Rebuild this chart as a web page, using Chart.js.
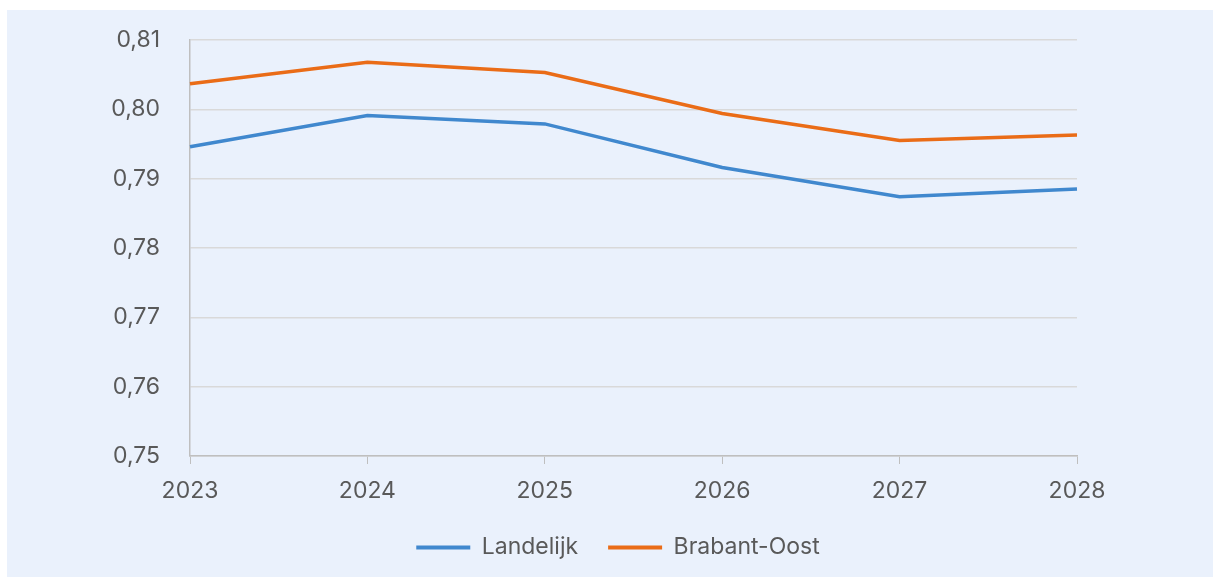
<!DOCTYPE html>
<html>
<head>
<meta charset="utf-8">
<script src="https://cdn.jsdelivr.net/npm/chart.js@4"></script>
<style>
  html, body { margin: 0; padding: 0; background: #ffffff; overflow: hidden; }
  #box { position: absolute; left: 7px; top: 10px; width: 1206px; height: 567px; background: #EAF1FC; }
</style>
</head>
<body>
<div id="box"><canvas id="lineChart" width="1206" height="567"></canvas></div>
<script>
const years = ["2023", "2024", "2025", "2026", "2027", "2028"];
const landelijk = [0.7946, 0.7991, 0.7979, 0.7916, 0.7874, 0.7885];
const brabantOost = [0.8037, 0.8068, 0.8053, 0.7994, 0.7955, 0.7963];
const yTicks = [0.75, 0.76, 0.77, 0.78, 0.79, 0.80, 0.81];

Chart.defaults.font.family = "Inter, 'Open Sans', sans-serif";
Chart.defaults.color = "#595959";

// the original legend is centred on the whole box, not on the plot
const legendShift = {
    id: "legendShift",
    afterLayout: function (chart) {
        chart.legend.left += 76;
        chart.legend.right += 76;
    }
};

const ctx = document.getElementById("lineChart").getContext("2d");

new Chart(ctx, {
    type: "line",
    data: {
        labels: years,
        datasets: [{
            label: "Landelijk",
            data: landelijk,
            borderColor: "#4088CE",
            backgroundColor: "#4088CE",
            borderWidth: 3.5,
            pointRadius: 0,
            tension: 0
        }, {
            label: "Brabant-Oost",
            data: brabantOost,
            borderColor: "#EA6C17",
            backgroundColor: "#EA6C17",
            borderWidth: 3.5,
            pointRadius: 0,
            tension: 0
        }]
    },
    options: {
        responsive: false,
        animation: false,
        layout: { padding: { top: 30, right: 136, bottom: 8, left: 0 } },
        plugins: {
            tooltip: { enabled: false },
            legend: {
                position: "bottom",
                labels: {
                    boxWidth: 54,
                    boxHeight: 4,
                    padding: 30,
                    font: { size: 23 },
                    color: "#595959",
                    generateLabels: function (chart) {
                        const items = Chart.defaults.plugins.legend.labels.generateLabels(chart);
                        items.forEach(it => { it.lineWidth = 0; });
                        return items;
                    }
                }
            }
        },
        scales: {
            x: {
                offset: false,
                grid: { drawOnChartArea: false, drawTicks: true, tickLength: 8, color: "#BFBFBF" },
                border: { color: "#BFBFBF", width: 1.5 },
                ticks: { font: { size: 23 }, padding: 13, maxRotation: 0 },
                afterFit: function (scale) { scale.height = 50; }
            },
            y: {
                min: yTicks[0],
                max: yTicks[yTicks.length - 1],
                afterBuildTicks: function (scale) {
                    scale.ticks = yTicks.map(v => ({ value: v }));
                },
                // invisible ticks give the label gap without pushing the plot down
                grid: { drawTicks: true, tickLength: 30, tickColor: "rgba(0,0,0,0)", color: "#D9D9D9", lineWidth: 1.5 },
                border: { color: "#BFBFBF", width: 1.5 },
                ticks: {
                    font: { size: 23 },
                    padding: 0,
                    callback: function (v) { return v.toFixed(2).replace(".", ","); }
                },
                afterFit: function (scale) { scale.width = 183; }
            }
        }
    },
    plugins: [legendShift]
});
</script>
</body>
</html>
